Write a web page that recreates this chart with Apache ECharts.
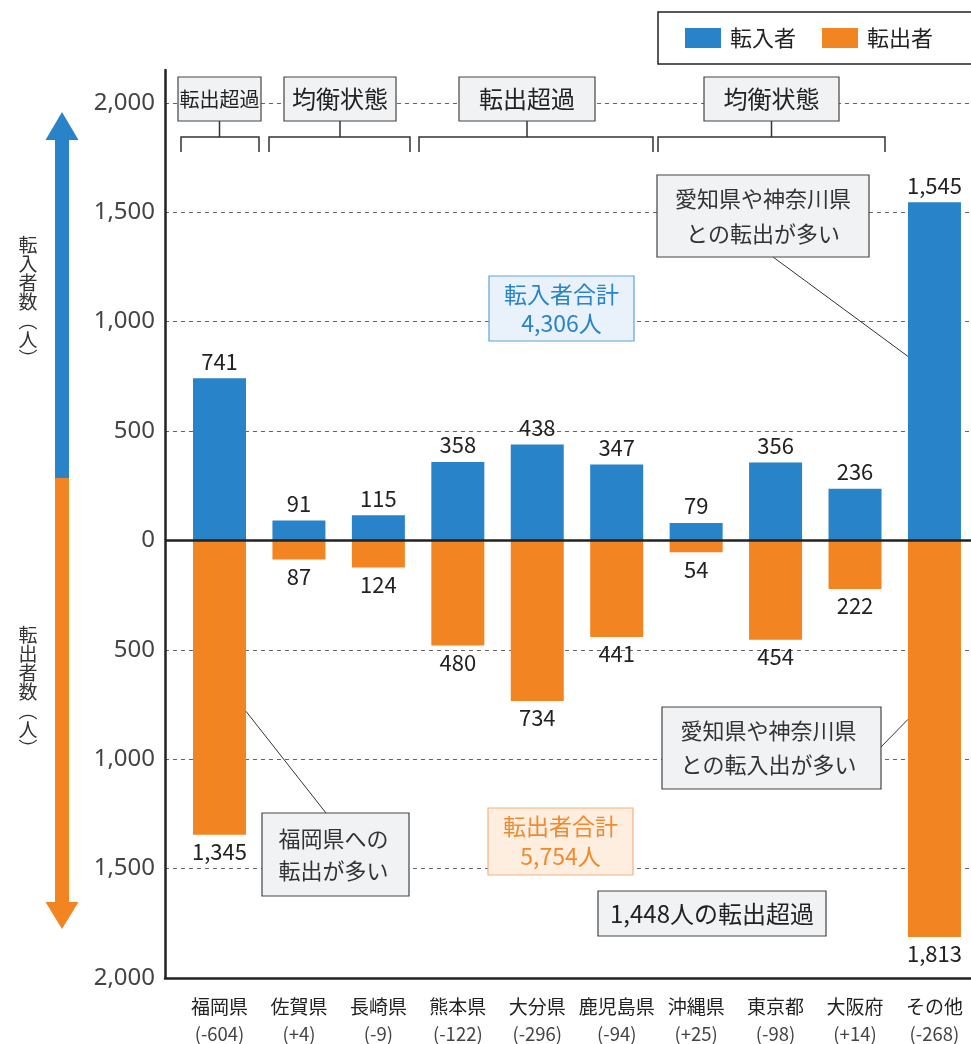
<!DOCTYPE html>
<html><head><meta charset="utf-8">
<script src="https://cdn.jsdelivr.net/npm/echarts@6/dist/echarts.min.js"></script>
<style>html,body{margin:0;padding:0;background:#fff}#c{width:971px;height:1044px}</style>
</head><body><div id="c"></div>
<script>
const categories = ['福岡県','佐賀県','長崎県','熊本県','大分県','鹿児島県','沖縄県','東京都','大阪府','その他'];
const netLabels = ['(-604)','(+4)','(-9)','(-122)','(-296)','(-94)','(+25)','(-98)','(+14)','(-268)'];
const inflow = [741,91,115,358,438,347,79,356,236,1545];
const outflow = [1345,87,124,480,734,441,54,454,222,1813];
const seriesNames = ['転入者','転出者'];
const groupLabels = ['転出超過','均衡状態','転出超過','均衡状態'];
const totalIn = '転入者合計\n4,306人';
const totalOut = '転出者合計\n5,754人';
const netText = '1,448人の転出超過';

const FONT = '"Noto Sans CJK JP","Noto Sans",sans-serif';
const BLUE = '#2983c8', ORANGE = '#f28422';
const fmt = v => Math.abs(v).toLocaleString('en-US');

const chart = echarts.init(document.getElementById('c'));
chart.setOption({
  animation:false,
  textStyle:{fontFamily:FONT},
  legend:{
    data:seriesNames, left:658, top:12, width:340, orient:'horizontal', icon:'rect', itemWidth:36, itemHeight:20, itemGap:26,
    borderColor:'#222', borderWidth:1.5, padding:[15,42,15,27],
    textStyle:{fontSize:22,color:'#222',fontFamily:FONT,padding:[0,0,0,4]}
  },
  grid:{left:165,right:0,top:70,bottom:66,containLabel:false},
  xAxis:{
    type:'value', min:-0.686, max:9.46,
    axisLine:{show:true,onZero:false,lineStyle:{color:'#222',width:2.5}},
    axisTick:{show:false}, splitLine:{show:false},
    axisLabel:{
      customValues:categories.map((c,i)=>i), margin:15,
      formatter:v=>'{n|'+categories[v]+'}\n{v|'+netLabels[v]+'}',
      rich:{n:{fontSize:19,color:'#222',lineHeight:27,fontFamily:FONT},
            v:{fontSize:18.5,color:'#444',lineHeight:27,fontFamily:FONT}}
    }
  },
  yAxis:{
    type:'value', min:-2000, max:2150, interval:500,
    axisLine:{show:true,onZero:false,lineStyle:{color:'#222',width:2.5}},
    axisTick:{show:false},
    axisLabel:{fontSize:24,color:'#444',margin:10,fontFamily:'"Noto Sans",sans-serif',
      formatter:v=>v>2000?'':fmt(v)},
    splitLine:{show:true,showMaxLine:false,showMinLine:false,lineStyle:{color:'#666',width:1,type:[4,4]}}
  },
  series:[
    {name:seriesNames[0],type:'bar',stack:'t',barWidth:53,itemStyle:{color:BLUE},
     data:inflow.map((v,i)=>[i,v]),
     label:{show:true,position:'top',distance:6,fontSize:22,color:'#222',fontFamily:FONT,formatter:p=>fmt(p.value[1])},
     markLine:{silent:true,symbol:'none',label:{show:false},lineStyle:{color:'#222',width:2.5,type:'solid'},data:[{yAxis:0}]}
    },
    {name:seriesNames[1],type:'bar',stack:'t',barWidth:53,itemStyle:{color:ORANGE},
     data:outflow.map((v,i)=>[i,-v]),
     label:{show:true,position:'bottom',distance:6,fontSize:22,color:'#222',fontFamily:FONT,formatter:p=>fmt(p.value[1])}
    }
  ]
});

const P = (x,y)=>chart.convertToPixel({gridIndex:0},[x,y]);
const half = 26.5;
const G = [];
const boxStyle = {fill:'#f1f2f4',stroke:'#444',lineWidth:1.2};
function box(x,y,w,h,txt,opt){
  opt=opt||{};
  G.push({type:'rect',z:50,shape:{x:x,y:y,width:w,height:h},style:Object.assign({},boxStyle,opt.box||{})});
  G.push({type:'text',z:51,x:x+w/2+(opt.dx||0),y:y+h/2+(opt.dy||0),style:{text:txt,fontSize:opt.fs||21,fill:opt.color||'#222',
    fontFamily:FONT,align:'center',verticalAlign:'middle',lineHeight:opt.lh||28}});
}
function line(pts,w){G.push({type:'polyline',z:49,shape:{points:pts},style:{stroke:'#333',lineWidth:w||1.5,fill:null}});}

// group boxes & brackets
const groups = [
  {bx:178,bw:83,l:181,r:259,fs:20},
  {bx:284,bw:112,l:269,r:410,fs:24},
  {bx:459,bw:136,l:419,r:653,fs:24},
  {bx:704,bw:135,l:658,r:885,fs:24}
];
groups.forEach((g,i)=>{
  box(g.bx,77,g.bw,44,groupLabels[i],{fs:g.fs});
  const cx=g.bx+g.bw/2;
  line([[g.l,152],[g.l,137],[g.r,137],[g.r,152]]);
  line([[cx,121],[cx,137]]);
});

// totals
box(489,276,145,65,totalIn,{box:{fill:'#e9f2fb',stroke:'#5ea3da'},color:BLUE,fs:23,lh:29});
box(488,808,145,67,totalOut,{box:{fill:'#fdeee0',stroke:'#f5b27c'},color:'#f08a2c',fs:23,lh:30});
box(598,891,228,45,netText,{fs:24});

// callouts
const topPt = P(9,841), botPt = P(9,-818), fukPt = P(0,-781);
line([[773,257],[topPt[0]-half,topPt[1]]],1);
line([[881,747],[botPt[0]-half,botPt[1]]],1);
line([[326,813],[fukPt[0]+half,fukPt[1]]],1);
box(657,175,212,82,'愛知県や神奈川県\nとの転出が多い',{fs:22,lh:35,color:'#333'});
box(662,707,219,82,'愛知県や神奈川県\nとの転入出が多い',{fs:22,lh:34,color:'#333',dx:-3});
box(262,813,147,83,'福岡県への\n転出が多い',{fs:22,lh:32,color:'#333',dx:-2});

// arrows
G.push({type:'polygon',z:40,shape:{points:[[62,112],[78.5,140],[69,140],[69,478],[55,478],[55,140],[45.5,140]]},style:{fill:BLUE}});
G.push({type:'polygon',z:40,shape:{points:[[55,478],[69,478],[69,902],[78.5,902],[62,929],[45.5,902],[55,902]]},style:{fill:ORANGE}});
// axis titles
G.push({type:'text',z:40,x:28,y:302,style:{text:'転\n入\n者\n数\n︵\n人\n︶',fontSize:19,lineHeight:19,fill:'#333',fontFamily:FONT,align:'center',verticalAlign:'middle'}});
G.push({type:'text',z:40,x:28,y:692,style:{text:'転\n出\n者\n数\n︵\n人\n︶',fontSize:19,lineHeight:19,fill:'#333',fontFamily:FONT,align:'center',verticalAlign:'middle'}});

chart.setOption({graphic:G});
</script></body></html>
